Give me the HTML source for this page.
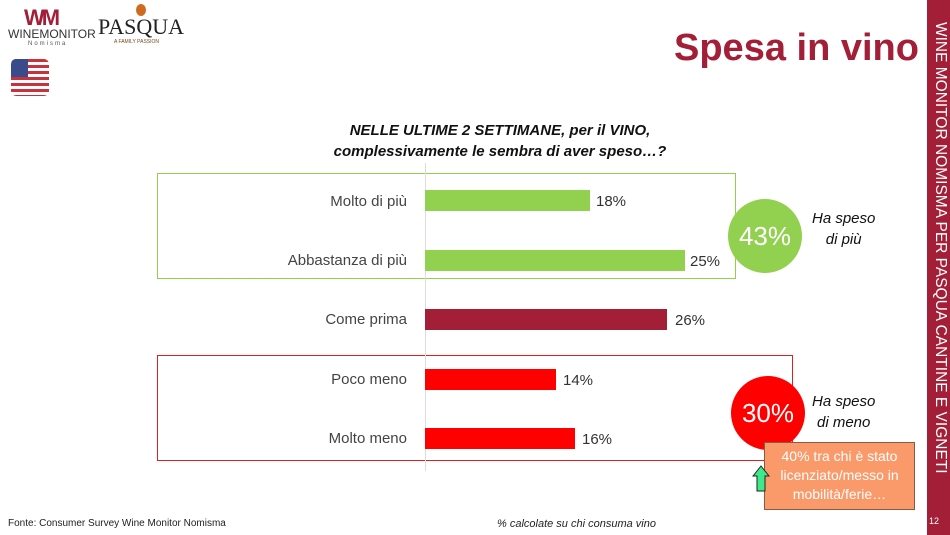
<!DOCTYPE html>
<html><head><meta charset="utf-8"><style>
body{margin:0;width:950px;height:535px;position:relative;background:#fff;font-family:"Liberation Sans","DejaVu Sans",sans-serif;overflow:hidden}
.a{position:absolute}
.lbl{position:absolute;right:543px;font-size:15px;color:#444;text-align:right;white-space:nowrap}
.bar{position:absolute;left:425px;height:21px}
.v{position:absolute;font-size:15px;color:#333}
</style></head><body>
<div class="a" style="left:927px;top:0;width:23px;height:535px;background:#a31f37"></div>
<div class="a" style="left:929px;top:22px;width:20px;height:480px;color:#fff;font-size:15.5px;writing-mode:vertical-rl;white-space:nowrap">WINE MONITOR NOMISMA PER PASQUA CANTINE E VIGNETI</div>
<div class="a" style="left:929px;top:516px;color:#fff;font-size:9px">12</div>
<div class="a" style="left:24px;top:8px;width:48px;height:20px;color:#a31f37;font-weight:bold;font-size:22px;line-height:20px;letter-spacing:-3px">WM</div>
<div class="a" style="left:8px;top:27px;font-size:12px;color:#333">WINEMONITOR</div>
<div class="a" style="left:28px;top:41px;font-size:6px;color:#555;letter-spacing:2px">Nomisma</div>
<div class="a" style="left:136px;top:4px;width:10px;height:12px;border-radius:50%;background:#d06a20"></div>
<div class="a" style="left:98px;top:14px;font-size:22px;font-family:'Liberation Serif',serif;color:#222">PASQUA</div>
<div class="a" style="left:114px;top:39px;font-size:5px;color:#7a4a20">A FAMILY PASSION</div>
<div class="a" style="left:11px;top:59px;width:38px;height:37px;border-radius:5px;overflow:hidden;background:repeating-linear-gradient(#c8323c 0 3px,#fff 3px 6px)"><div style="width:17px;height:18px;background:#3a4b8c"></div></div>
<div class="a" style="left:674px;top:27px;font-size:38px;font-weight:bold;color:#a31f37">Spesa in vino</div>
<div class="a" style="left:300px;top:120px;width:400px;text-align:center;font-size:15px;font-weight:bold;font-style:italic;line-height:21px;color:#111">NELLE ULTIME 2 SETTIMANE, per il VINO,<br>complessivamente le sembra di aver speso…?</div>
<div class="a" style="left:157px;top:173px;width:577px;height:104px;border:1px solid #92d050"></div>
<div class="a" style="left:157px;top:355px;width:634px;height:104px;border:1px solid #e02020"></div>
<div class="a" style="left:425px;top:163px;width:1px;height:308px;background:#ddd"></div>
<div class="lbl" style="top:193px">Molto di più</div>
<div class="lbl" style="top:252px">Abbastanza di più</div>
<div class="lbl" style="top:311px">Come prima</div>
<div class="lbl" style="top:371px">Poco meno</div>
<div class="lbl" style="top:430px">Molto meno</div>
<div class="bar" style="top:190px;width:165px;background:#92d050"></div><div class="v" style="left:596px;top:193px">18%</div>
<div class="bar" style="top:250px;width:260px;background:#92d050"></div><div class="v" style="left:690px;top:253px">25%</div>
<div class="bar" style="top:309px;width:242px;background:#a31f37"></div><div class="v" style="left:675px;top:312px">26%</div>
<div class="bar" style="top:369px;width:131px;background:#ff0000"></div><div class="v" style="left:563px;top:372px">14%</div>
<div class="bar" style="top:428px;width:150px;background:#ff0000"></div><div class="v" style="left:582px;top:431px">16%</div>
<div class="a" style="left:728px;top:199px;width:74px;height:74px;border-radius:50%;background:#92d050;color:#fff;font-size:26px;line-height:74px;text-align:center">43%</div>
<div class="a" style="left:731px;top:376px;width:74px;height:74px;border-radius:50%;background:#ff0000;color:#fff;font-size:26px;line-height:74px;text-align:center">30%</div>
<div class="a" style="left:812px;top:208px;font-size:15px;font-style:italic;text-align:center;line-height:21px;color:#111">Ha speso<br>di più</div>
<div class="a" style="left:812px;top:391px;font-size:15px;font-style:italic;text-align:center;line-height:21px;color:#111">Ha speso<br>di meno</div>
<div class="a" style="left:764px;top:442px;width:151px;height:68px;background:#fa9a6a;border:1px solid #8a5a40;color:#fff;font-size:14px;text-align:center;line-height:19px;padding-top:4px;box-sizing:border-box">40% tra chi è stato licenziato/messo in mobilità/ferie…</div>
<svg class="a" style="left:752px;top:465px" width="18" height="28"><polygon points="9,1 17,11 13,11 13,26 5,26 5,11 1,11" fill="#3dea8a" stroke="#222" stroke-width="1"/></svg>
<div class="a" style="left:8px;top:518px;font-size:10px;color:#222">Fonte: Consumer Survey Wine Monitor Nomisma</div>
<div class="a" style="left:497px;top:518px;font-size:11px;font-style:italic;color:#222">% calcolate su chi consuma vino</div>
</body></html>
